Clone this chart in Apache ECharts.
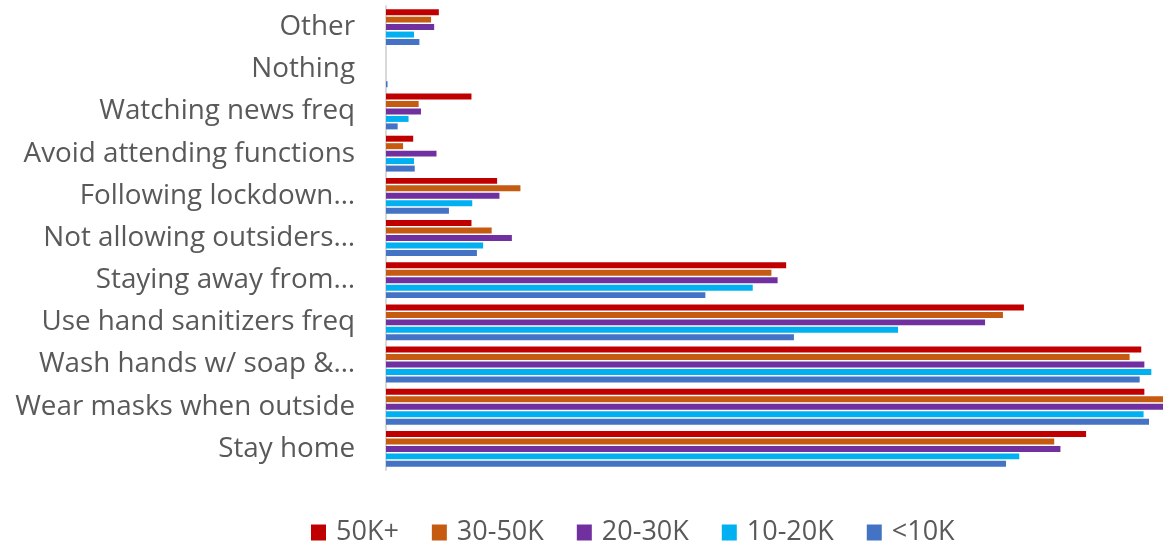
<!DOCTYPE html>
<html>
<head>
<meta charset="utf-8">
<script src="https://cdn.jsdelivr.net/npm/echarts@6/dist/echarts.min.js"></script>
<style>
  html, body { margin: 0; padding: 0; background: #fff; }
  #chart { width: 1163px; height: 542px; }
</style>
</head>
<body>
<div id="chart"></div>
<script>
// Precautions taken, by monthly household income (% of respondents)
const categories = [
  'Stay home',
  'Wear masks when outside',
  'Wash hands w/ soap &…',
  'Use hand sanitizers freq',
  'Staying away from…',
  'Not allowing outsiders…',
  'Following lockdown…',
  'Avoid attending functions',
  'Watching news freq',
  'Nothing',
  'Other'
];

const seriesNames = ['50K+', '30-50K', '20-30K', '10-20K', '<10K'];
const seriesColors = ['#C00000', '#C55A11', '#7030A0', '#00B0F0', '#4472C4'];

const income50kPlus = [90.1, 97.6, 97.2, 82.1, 51.5, 11.0, 14.3, 3.5, 11.0, 0, 6.8];
const income30to50k = [86.0, 100, 95.7, 79.4, 49.6, 13.6, 17.3, 2.2, 4.2, 0, 5.8];
const income20to30k = [86.8, 100, 97.6, 77.1, 50.4, 16.2, 14.6, 6.5, 4.5, 0, 6.2];
const income10to20k = [81.5, 97.5, 98.5, 65.9, 47.2, 12.5, 11.1, 3.6, 2.9, 0, 3.6];
const incomeBelow10k = [79.8, 98.2, 97.0, 52.5, 41.1, 11.7, 8.1, 3.7, 1.5, 0.2, 4.3];

const seriesValues = [income50kPlus, income30to50k, income20to30k, income10to20k, incomeBelow10k];

const chart = echarts.init(document.getElementById('chart'));

const series = seriesNames.map((name, i) => ({
  name: name,
  type: 'bar',
  data: seriesValues[i],
  itemStyle: { color: seriesColors[i] },
  barGap: '25%',
  barCategoryGap: '15%',
  animation: false
}));

chart.setOption({
  backgroundColor: '#ffffff',
  textStyle: { fontFamily: 'Open Sans' },
  grid: { left: 386, right: 0, top: 6, height: 464 },
  legend: {
    data: seriesNames,
    top: 514,
    left: 306,
    itemWidth: 15,
    itemHeight: 16,
    itemGap: 33,
    icon: 'rect',
    textStyle: {
      fontSize: 27,
      color: '#595959',
      fontFamily: 'Open Sans',
      padding: [0, 0, 0, 5]
    }
  },
  xAxis: {
    type: 'value',
    min: 0,
    max: 100,
    show: false
  },
  yAxis: {
    type: 'category',
    data: categories,
    axisLine: { show: true, lineStyle: { color: '#D9D9D9', width: 2 } },
    axisTick: { show: false },
    axisLabel: {
      margin: 31,
      fontSize: 27.8,
      color: '#595959',
      fontFamily: 'Open Sans'
    },
    splitLine: { show: false }
  },
  series: series
});
</script>
</body>
</html>
